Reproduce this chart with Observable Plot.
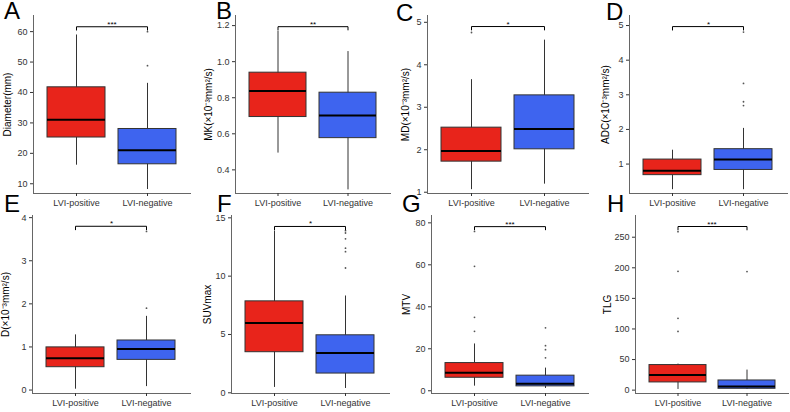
<!DOCTYPE html>
<html><head><meta charset="utf-8">
<script src="https://cdn.jsdelivr.net/npm/d3@7"></script>
<script src="https://cdn.jsdelivr.net/npm/@observablehq/plot@0.6"></script>
<style>
body{margin:0;background:#fff;}
#chart{position:relative;width:790px;height:412px;overflow:hidden;font-family:"Liberation Sans",Arial,sans-serif;background:#fff;}
.panel{position:absolute;}
.panel svg{overflow:visible;}
.letter{position:absolute;font-size:24px;line-height:18px;height:18px;color:#000;font-family:"Liberation Sans",Arial,sans-serif;}
</style></head><body><div id="chart"></div>
<script>
const groups = ["LVI-positive", "LVI-negative"];
const panelLetters = ["A", "B", "C", "D", "E", "F", "G", "H"];
const yTitles = ["Diameter(mm)", "MK(×10⁻³mm²/s)", "MD(×10⁻³mm²/s)", "ADC(×10⁻³mm²/s)", "D(×10⁻³mm²/s)", "SUVmax", "MTV", "TLG"];
const significance = ["***", "**", "*", "*", "*", "*", "***", "***"];
// box statistics: [lower whisker, Q1, median, Q3, upper whisker]
const positiveStats = [
  [16.1, 25.2, 31.0, 41.7, 58.9],
  [0.493, 0.693, 0.837, 0.939, 1.169],
  [1.06, 1.72, 1.97, 2.52, 3.65],
  [0.26, 0.68, 0.81, 1.13, 1.40],
  [0.02, 0.53, 0.74, 0.99, 1.28],
  [0.46, 3.48, 5.99, 7.84, 13.86],
  [2.2, 6.2, 8.6, 13.2, 22.3],
  [1.1, 12.6, 24.6, 41.0, 42.6]
];
const negativeStats = [
  [8.1, 16.4, 21.0, 28.0, 43.0],
  [0.289, 0.576, 0.702, 0.828, 1.056],
  [1.19, 2.01, 2.49, 3.28, 4.58],
  [0.26, 0.83, 1.13, 1.43, 2.03],
  [0.08, 0.70, 0.95, 1.15, 1.71],
  [0.37, 1.65, 3.42, 4.93, 8.30],
  [1.1, 2.1, 3.3, 7.2, 10.8],
  [1.0, 2.2, 6.0, 15.8, 32.8]
];
const positiveOutliers = [[], [], [4.76], [], [], [], [75.9, 59.3, 35, 28.3], [259, 194.3, 117.4, 96]];
const negativeOutliers = [[48.8, 60], [], [], [4.81, 3.33, 2.80, 2.69], [3.68, 1.90], [13.9, 13.7, 13.2, 12.4, 12.1, 10.7], [30, 21.5, 19.6, 15.7], [193.8]];
const bracketValues = [61.6, 1.194, 4.90, 4.97, 3.80, 14.26, 78.2, 267.5];
const bracketTips = [60.5, 1.176, 4.82, 4.87, 3.72, 13.97, 76.7, 262];
const yDomains = [[6.8, 65.3], [0.269, 1.256], [0.97, 5.16], [0.15, 5.29], [-0.08, 4.05], [-0.06, 15.2], [-1.3, 83.5], [-5.5, 285.5]];
const yTicks = [[10, 20, 30, 40, 50, 60], [0.4, 0.6, 0.8, 1.0, 1.2], [1, 2, 3, 4, 5], [1, 2, 3, 4, 5], [0, 1, 2, 3, 4], [0, 5, 10, 15], [0, 20, 40, 60, 80], [0, 50, 100, 150, 200, 250]];
const tickFormats = [d3.format("d"), d3.format(".1f"), d3.format("d"), d3.format("d"), d3.format("d"), d3.format("d"), d3.format("d"), d3.format("d")];
const fills = ["#E8241B", "#3E64EF"];

// layout: svg left, svg top, plot left, plot right, y-title center x, letter x, letter y
const layout = [
  [0, 0, 33, 190, 7, 4, 2],
  [197, 0, 235, 390, 208, 216, 2],
  [394, 0, 427, 588, 405, 396, 4],
  [592, 0, 629, 787, 605, 606, 3],
  [0, 200, 32, 190, 5, 4, 195],
  [197, 200, 231, 389, 207, 217, 195],
  [394, 200, 431, 588, 406, 402, 195],
  [592, 200, 635, 788, 607, 607, 195]
];
const W = 198, H = 211, MT = 15, MB = 18;
const font = "'Liberation Sans', Arial, sans-serif";
const chart = document.getElementById("chart");

for (let i = 0; i < 8; i++) {
  const [sl, st, pl, pr, tx, lx, ly] = layout[i];
  const rows = groups.map((g, j) => {
    const s = j ? negativeStats[i] : positiveStats[i];
    return {group: g, lo: s[0], q1: s[1], med: s[2], q3: s[3], hi: s[4]};
  });
  const outs = [
    ...positiveOutliers[i].map(v => ({group: groups[0], v})),
    ...negativeOutliers[i].map(v => ({group: groups[1], v}))
  ];
  const bracket = [
    {group: groups[0], y: bracketTips[i]},
    {group: groups[0], y: bracketValues[i]},
    {group: groups[1], y: bracketValues[i]},
    {group: groups[1], y: bracketTips[i]}
  ];
  const plot = Plot.plot({
    width: W, height: H, marginTop: MT, marginBottom: MB,
    marginLeft: pl - sl, marginRight: sl + W - pr,
    style: {fontFamily: font, fontSize: "9px", overflow: "visible", background: "transparent", color: "#333"},
    x: {domain: groups, paddingInner: 0.18, paddingOuter: 0.19, label: null},
    y: {domain: yDomains[i], label: null},
    color: {domain: groups, range: fills},
    marks: [
      Plot.ruleX(rows, {x: "group", y1: "lo", y2: "hi", stroke: "#333", strokeWidth: 1}),
      Plot.barY(rows, {x: "group", y1: "q1", y2: "q3", fill: "group", stroke: "#333", strokeWidth: 1}),
      Plot.tickY(rows, {x: "group", y: "med", stroke: "#000", strokeWidth: 2}),
      Plot.dot(outs, {x: "group", y: "v", r: 0.9, fill: "#555"}),
      Plot.line(bracket, {x: "group", y: "y", stroke: "#000", strokeWidth: 1}),
      Plot.text([{y: bracketValues[i], t: significance[i]}], {y: "y", text: "t", lineAnchor: "bottom", dy: 0, fontSize: 8, fill: "#000"}),
      Plot.frame({anchor: "left", stroke: "#666"}),
      Plot.frame({anchor: "bottom", stroke: "#666"}),
      Plot.axisY({ticks: yTicks[i], tickFormat: tickFormats[i], tickSize: 3, tickPadding: 3, fontSize: 9, label: null}),
      Plot.axisX({tickSize: 3, tickPadding: 3, fontSize: 9, label: null}),
      Plot.text([yTitles[i]], {frameAnchor: "left", textAnchor: "middle", lineAnchor: "middle", rotate: -90, dx: -(pl - tx), fontSize: 10, fill: "#000"})
    ]
  });
  const div = document.createElement("div");
  div.className = "panel";
  div.style.left = sl + "px";
  div.style.top = st + "px";
  div.appendChild(plot);
  chart.appendChild(div);
  const letter = document.createElement("div");
  letter.className = "letter";
  letter.textContent = panelLetters[i];
  letter.style.left = lx + "px";
  letter.style.top = ly + "px";
  chart.appendChild(letter);
}
</script></body></html>
